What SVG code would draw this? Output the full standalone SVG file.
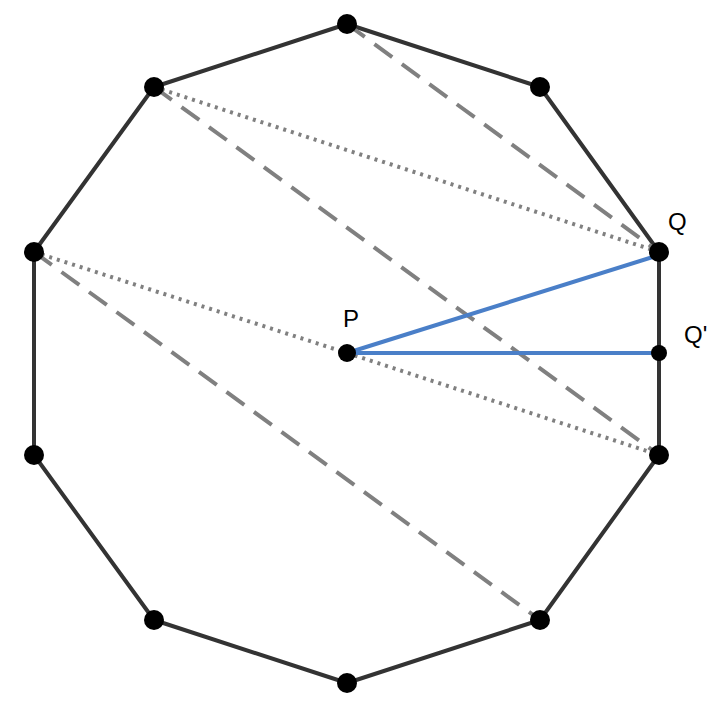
<svg xmlns="http://www.w3.org/2000/svg" width="726" height="714" viewBox="0 0 726 714">
<style>
.poly{fill:none;stroke:#333;stroke-width:4;stroke-linejoin:round}
.dash{stroke:#808080;stroke-width:4;stroke-dasharray:22,12;fill:none}
.dot{stroke:#808080;stroke-width:4;stroke-dasharray:3,5;fill:none}
.blue{stroke:#4a7fc8;stroke-width:4;fill:none}
.v{fill:#000}
.lbl{font-family:"Liberation Sans",Arial,sans-serif;font-size:24px;fill:#000}
</style>
<rect width="726" height="714" fill="#fff"/>
<g id="decagon"><polygon class="poly" points="347,24 540,87 659,252 659,455 540,620 347,683 154,620 34,455 34,252 154,87"/></g>
<g id="connectors">
<line class="dash" x1="347" y1="24" x2="659" y2="252"/>
<line class="dash" x1="154" y1="87" x2="659" y2="455"/>
<line class="dash" x1="34" y1="252" x2="540" y2="620"/>
<line class="dot" x1="154" y1="87" x2="659" y2="252"/>
<line class="dot" x1="34" y1="252" x2="347" y2="353"/>
<line class="dot" x1="347" y1="353" x2="659" y2="455"/>
<line class="blue" x1="347" y1="353" x2="659" y2="255"/>
<line class="blue" x1="347" y1="353" x2="659" y2="353"/>
</g>
<g id="vertices">
<circle class="v" cx="347" cy="24" r="10"/><circle class="v" cx="540" cy="87" r="10"/>
<circle class="v" cx="659" cy="455" r="10"/><circle class="v" cx="540" cy="620" r="10"/>
<circle class="v" cx="347" cy="683" r="10"/><circle class="v" cx="154" cy="620" r="10"/>
<circle class="v" cx="34" cy="455" r="10"/><circle class="v" cx="34" cy="252" r="10"/>
<circle class="v" cx="154" cy="87" r="10"/>
</g>
<g id="Q"><circle class="v" cx="659" cy="252" r="10"/><text class="lbl" x="668" y="230">Q</text></g>
<g id="Qp"><circle class="v" cx="659" cy="353" r="8"/><text class="lbl" x="684" y="343">Q'</text></g>
<g id="P"><circle class="v" cx="347" cy="353" r="9"/><text class="lbl" x="343" y="327">P</text></g>
</svg>
